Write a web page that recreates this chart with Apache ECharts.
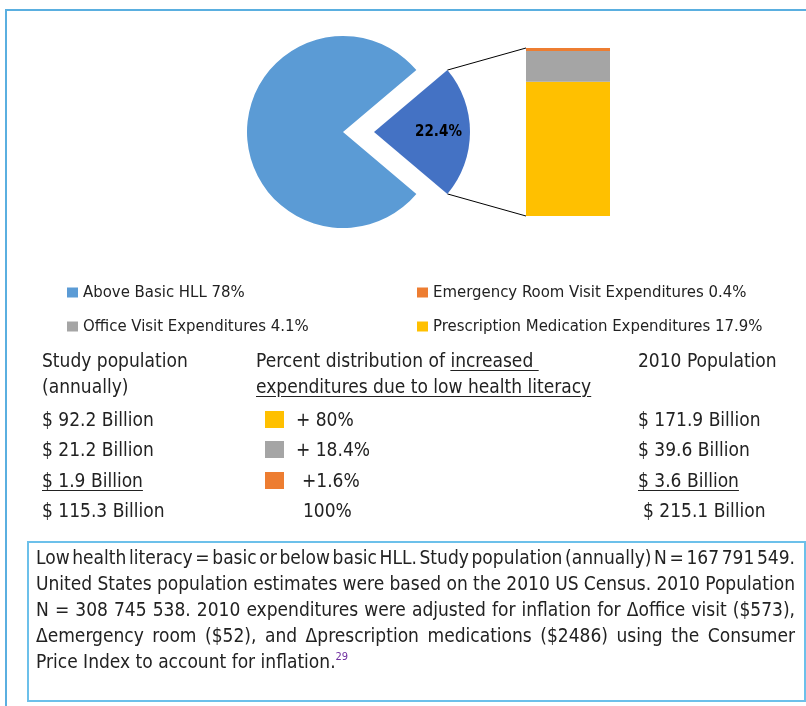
<!DOCTYPE html>
<html>
<head>
<meta charset="utf-8">
<title>Increased expenditures due to low health literacy</title>
<script src="https://cdn.jsdelivr.net/npm/echarts@6/dist/echarts.min.js"></script>
<style>
  body { margin: 0; background: #fff; }
  #wrap { position: relative; width: 806px; height: 706px; overflow: hidden;
          font-family: "Liberation Sans Narrow", "DejaVu Sans Condensed", sans-serif; color: #222; }
  #chart { position: absolute; left: 0; top: 0; width: 806px; height: 706px; }
  .frame-top { position: absolute; left: 5px; top: 9px; width: 801px; border-top: 2px solid #5aafe0; }
  .frame-left { position: absolute; left: 5px; top: 9px; height: 697px; border-left: 2px solid #5aafe0; }
  .cell { position: absolute; font-size: 19px; line-height: 26px; white-space: nowrap; }
  .u { text-decoration: underline; text-underline-offset: 3px; }
  .sw { position: absolute; width: 19px; height: 17px; }
  #note { position: absolute; left: 27px; top: 541px; width: 779px; height: 161px; box-sizing: border-box;
          border: 2px solid #6cc0ea; padding: 1px 9px 0 7px; font-size: 19px; line-height: 26px; }
  #note .ln { text-align: justify; text-align-last: justify; white-space: nowrap; }
  #note .ln.last { text-align-last: left; }
  #note sup { color: #7030a0; font-size: 11px; vertical-align: 8px; line-height: 0; }
</style>
</head>
<body>
<div id="wrap">
  <div id="chart"></div>
  <div class="frame-top"></div>
  <div class="frame-left"></div>
  <div id="table"></div>
  <div id="note"></div>
</div>
<script type="text/javascript">
    // pie: low health literacy share vs above basic
    var pieNames = ['Basic or below basic HLL', 'Above Basic HLL'];
    var pieValues = [22.4, 78];
    // bar (stacked, bottom to top)
    var barNames = ['Prescription Medication Expenditures', 'Office Visit Expenditures', 'Emergency Room Visit Expenditures'];
    var barValues = [17.9, 4.1, 0.4];
    var barColors = ['#ffc000', '#a5a5a5', '#ed7d31'];
    var pieColors = ['#4472c4', '#5b9bd5'];

    // table below the chart
    var studyPop = ['$ 92.2 Billion', '$ 21.2 Billion', '$ 1.9 Billion', '$ 115.3 Billion'];
    var pctIncrease = ['+ 80%', '+ 18.4%', '+1.6%', '100%'];
    var pop2010 = ['$ 171.9 Billion', '$ 39.6 Billion', '$ 3.6 Billion', '$ 215.1 Billion'];
    var noteLines = [
        'Low health literacy = basic or below basic HLL. Study population (annually) N = 167 791 549.',
        'United States population estimates were based on the 2010 US Census. 2010 Population',
        'N = 308 745 538. 2010 expenditures were adjusted for inflation for \u0394office visit ($573),',
        '\u0394emergency room ($52), and \u0394prescription medications ($2486) using the Consumer',
        'Price Index to account for inflation.'
    ];

    var pieCenter = [343, 132], pieRadius = 96, explode = 31;
    var barGrid = { left: 526, top: 48, width: 84, height: 168 };

    var pctOf = {};
    pctOf[pieNames[1]] = pieValues[1];
    barNames.forEach(function (n, i) { pctOf[n] = barValues[i]; });

    var pieTotal = pieValues[0] + pieValues[1];
    var halfAngle = pieValues[0] / pieTotal * 180;
    var barTotal = barValues.reduce(function (a, b) { return a + b; }, 0);

    var myChart = echarts.init(document.getElementById('chart'));

    var legendText = { fontFamily: '"Liberation Sans Narrow", "DejaVu Sans Condensed", sans-serif', fontSize: 16.6, color: '#222' };
    var legendFmt = function (name) { return name + ' ' + pctOf[name] + '%'; };

    var series = [{
        type: 'pie',
        center: pieCenter,
        radius: pieRadius,
        startAngle: halfAngle,
        clockwise: true,
        selectedMode: 'single',
        selectedOffset: explode,
        animation: false,
        emphasis: { scale: false },
        label: { show: false },
        labelLine: { show: false },
        data: pieNames.map(function (n, i) {
            var d = { name: n, value: pieValues[i], itemStyle: { color: pieColors[i] } };
            if (i === 0) {
                d.selected = true;
                d.label = { show: true, position: 'inside', formatter: pieValues[0] + '%', color: '#000',
                    fontWeight: 'bold', fontSize: 15, fontFamily: '"DejaVu Sans Condensed", sans-serif', padding: [7, 0, 0, 27] };
            }
            return d;
        })
    }];
    barNames.forEach(function (n, i) {
        series.push({
            name: n, type: 'bar', stack: 'exp', barWidth: '100%', animation: false,
            itemStyle: { color: barColors[i] }, data: [barValues[i]]
        });
    });

    myChart.setOption({
        color: barColors,
        legend: [{
            orient: 'vertical', left: 62, top: 279, itemGap: 17, itemWidth: 11, itemHeight: 10, icon: 'rect',
            selectedMode: false, textStyle: legendText, formatter: legendFmt,
            data: [pieNames[1], barNames[1]]
        }, {
            orient: 'vertical', left: 412, top: 279, itemGap: 17, itemWidth: 11, itemHeight: 10, icon: 'rect',
            selectedMode: false, textStyle: legendText, formatter: legendFmt,
            data: [barNames[2], barNames[0]]
        }],
        grid: barGrid,
        xAxis: { type: 'category', data: [''], show: false },
        yAxis: { type: 'value', min: 0, max: barTotal, show: false },
        series: series
    });

    // connector lines from the exploded slice to the bar
    var a = halfAngle * Math.PI / 180;
    var apexX = pieCenter[0] + explode;
    var topPt = [apexX + pieRadius * Math.cos(a), pieCenter[1] - pieRadius * Math.sin(a)];
    var botPt = [apexX + pieRadius * Math.cos(a), pieCenter[1] + pieRadius * Math.sin(a)];
    var barTopY = myChart.convertToPixel({ yAxisIndex: 0 }, barTotal);
    var barBotY = myChart.convertToPixel({ yAxisIndex: 0 }, 0);
    myChart.setOption({
        graphic: [
            { type: 'line', shape: { x1: topPt[0], y1: topPt[1], x2: barGrid.left, y2: barTopY }, style: { stroke: '#000', lineWidth: 1 } },
            { type: 'line', shape: { x1: botPt[0], y1: botPt[1], x2: barGrid.left, y2: barBotY }, style: { stroke: '#000', lineWidth: 1 } }
        ]
    });

    // table
    var rowsY = [419, 449, 480, 510];
    var html = '';
    html += '<div class="cell" style="left:42px;top:347px">Study population</div>';
    html += '<div class="cell" style="left:42px;top:373px">(annually)</div>';
    html += '<div class="cell" style="left:256px;top:347px">Percent distribution of <span class="u">increased&nbsp;</span></div>';
    html += '<div class="cell u" style="left:256px;top:373px">expenditures due to low health literacy</div>';
    html += '<div class="cell" style="left:638px;top:347px">2010 Population</div>';
    var pctX = [296, 296, 302, 303];
    var popX = [638, 638, 638, 643];
    rowsY.forEach(function (y, i) {
        var u = i === 2 ? ' u' : '';
        html += '<div class="cell' + u + '" style="left:42px;top:' + (y - 13) + 'px">' + studyPop[i] + '</div>';
        if (i < 3) html += '<div class="sw" style="left:265px;top:' + (y - 8) + 'px;background:' + barColors[i] + '"></div>';
        html += '<div class="cell" style="left:' + pctX[i] + 'px;top:' + (y - 13) + 'px">' + pctIncrease[i] + '</div>';
        html += '<div class="cell' + u + '" style="left:' + popX[i] + 'px;top:' + (y - 13) + 'px">' + pop2010[i] + '</div>';
    });
    document.getElementById('table').innerHTML = html;

    // footnote: justified lines, squeezing word spacing where a line is too long
    var note = document.getElementById('note');
    var nh = '';
    noteLines.forEach(function (t, i) {
        var last = i === noteLines.length - 1;
        nh += '<div class="ln' + (last ? ' last' : '') + '"><span>' + t + (last ? '<sup>29</sup>' : '') + '</span></div>';
    });
    note.innerHTML = nh;
    var avail = note.clientWidth - 16;
    Array.prototype.forEach.call(note.querySelectorAll('.ln'), function (ln) {
        var sp = ln.firstChild;
        var w = sp.getBoundingClientRect().width;
        if (w > avail) {
            var gaps = (sp.textContent.match(/ /g) || []).length;
            ln.style.wordSpacing = (-(w - avail) / gaps - 0.3).toFixed(2) + 'px';
        }
    });
</script>
</body>
</html>
